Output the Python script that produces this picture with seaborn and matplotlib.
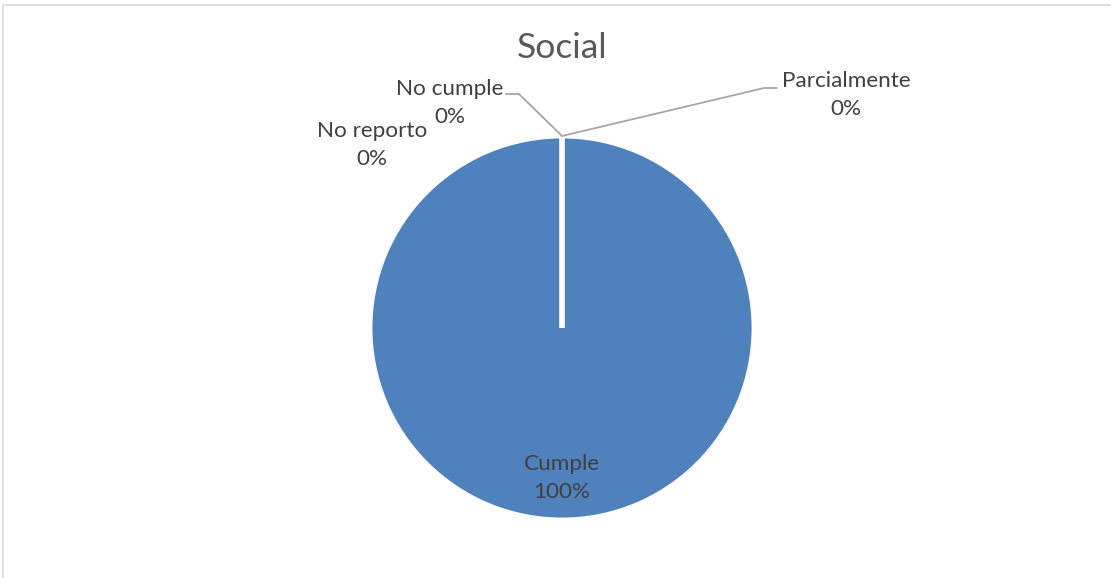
import matplotlib
matplotlib.use("Agg")
import matplotlib.pyplot as plt
import seaborn as sns
from matplotlib.patches import Rectangle

# -- Data ----------------------------------------------------------------------
categories = ["Cumple", "Parcialmente", "No cumple", "No reporto"]
values = [100, 0, 0, 0]
title = "Social"

# label anchor positions in figure pixels (x from left, y from top)
label_pos = {
    "Cumple":       (562, 478),
    "Parcialmente": (846, 95),
    "No cumple":    (450, 103),
    "No reporto":   (372, 145),
}
# leader lines: elbow point + end of short horizontal
leaders = {
    "Parcialmente": [(764, 88), (777, 88)],
    "No cumple":    [(519, 94), (506, 94)],
}

# -- Style ---------------------------------------------------------------------
sns.set_theme(style="white")
plt.rcParams["font.family"] = ["Lato", "DejaVu Sans"]
pie_color = sns.color_palette(["#4F81BD"])[0]
text_color = "#404040"

W, H = 1111, 578
fig = plt.figure(figsize=(W / 100, H / 100), dpi=100)

cx, cy, r = 562, 328, 192
ax = fig.add_axes([(cx - r) / W, (H - cy - r) / H, 2 * r / W, 2 * r / H])


def to_data(px, py):
    return (px - cx) / r, (cy - py) / r


total = sum(values)
ax.pie(values, colors=[pie_color] * len(values), startangle=90, counterclock=False,
       radius=1, wedgeprops=dict(edgecolor="white", linewidth=3.5))
ax.set_xlim(-1, 1)
ax.set_ylim(-1, 1)
ax.set_aspect("equal")
ax.axis("off")

top = (0, 1.0)
for cat, val in zip(categories, values):
    pct = f"{val / total * 100:.0f}%"
    x, y = to_data(*label_pos[cat])
    ax.text(x, y, f"{cat}\n{pct}", ha="center", va="center", fontsize=16.2,
            color=text_color, linespacing=1.5, clip_on=False)
    if cat in leaders:
        pts = [top] + [to_data(*p) for p in leaders[cat]]
        ax.plot([p[0] for p in pts], [p[1] for p in pts], color="#a6a6a6",
                lw=1.3, clip_on=False)

fig.text(cx / W, 1 - 48 / H, title, ha="center", va="center", fontsize=25.5,
         color="#595959")

# chart area border (runs off the right and bottom edges)
fig.patches.append(Rectangle((3 / W, -0.1), 1.2, (H - 5) / H + 0.1,
                             transform=fig.transFigure, fill=False,
                             edgecolor="#d9d9d9", lw=1.2))

fig.savefig("out.png", dpi=100)
